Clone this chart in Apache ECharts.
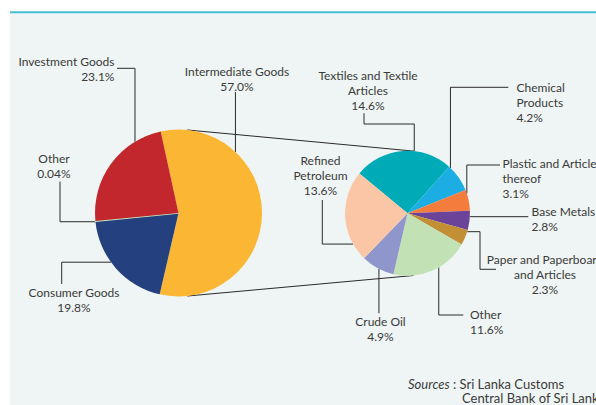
<!DOCTYPE html>
<html>
<head>
<meta charset="utf-8">
<script src="https://cdn.jsdelivr.net/npm/echarts@6/dist/echarts.min.js"></script>
<style>
  html, body { margin: 0; padding: 0; background: #fff; }
  #chart { width: 596px; height: 405px; }
</style>
</head>
<body>
<div id="chart"></div>
<script>
// main split of imports (% of total)
var mainNames = ['Intermediate Goods', 'Consumer Goods', 'Other', 'Investment Goods'];
var mainShares = [57.0, 19.8, 0.04, 23.1];
var mainColors = ['#fbb633', '#24407f', '#c8e6bd', '#c1272d'];

// breakdown of intermediate goods (% of total)
var subNames = ['Textiles and Textile\nArticles', 'Chemical\nProducts', 'Plastic and Articles\nthereof',
  'Base Metals', 'Paper and Paperboard\nand Articles', 'Other', 'Crude Oil', 'Refined\nPetroleum'];
var subShares = [14.6, 4.2, 3.1, 2.8, 2.3, 11.6, 4.9, 13.6];
var subColors = ['#00abb8', '#1caee2', '#f47d3e', '#6b449a', '#c28f35', '#c2e1b5', '#8f96cb', '#fbc6a5'];

// pie geometry
var pies = [
  { center: [178.5, 213], r: 83.5, start: 102.3 },
  { center: [407.5, 213.3], r: 62.5, start: 140.3 }
];

// label placement: leader start angle on the pie, elbow points, label anchor
var labelSpots = [
  [
    { a: 47, pts: [[null, 92]], x: 237, y: 79, align: 'center' },
    { a: 216.1, pts: [[61.7, null], [61.7, 284]], x: 74, y: 299.5, align: 'center' },
    { a: 186, pts: [[60, null], [60, 181.7]], x: 54, y: 165.5, align: 'center' },
    { a: 121.4, pts: [[null, 68.3], [117, 68.3]], x: 114.5, y: 68.5, align: 'right' }
  ],
  [
    { a: 83.8, pts: [[null, 124], [364, 124], [364, 113.3]], x: 368, y: 90, align: 'center' },
    { a: 46.6, pts: [[null, 87.3], [508.3, 87.3]], x: 516.5, y: 102.5, align: 'left' },
    { a: 18.4, pts: [[null, 165], [500, 165]], x: 502.5, y: 178, align: 'left' },
    { a: -3.1, pts: [[528.3, null]], x: 531.5, y: 219, align: 'left' },
    { a: -17.1, pts: [[480, null], [480, 269.3], [496, 269.3]], x: 545, y: 274.5, align: 'center' },
    { a: -60, pts: [[null, 315], [463.3, 315]], x: 470, y: 322, align: 'left' },
    { a: -117.2, pts: [[null, 313.3]], x: 380.5, y: 329, align: 'center' },
    { a: 209.5, pts: [[322.3, null], [322.3, 200]], x: 320.5, y: 175, align: 'center' }
  ]
];

function edgePoint(p, deg) {
  var t = deg * Math.PI / 180;
  return [p.center[0] + p.r * Math.cos(t), p.center[1] - p.r * Math.sin(t)];
}

function pct(v) {
  return (v < 0.1 ? v.toFixed(2) : v.toFixed(1)) + '%';
}

var textColor = '#3a3a3a';
var lineColor = '#2a2a2a';

function makePie(idx, names, values, colors) {
  var p = pies[idx];
  return {
    type: 'pie',
    center: p.center,
    radius: p.r,
    startAngle: p.start,
    clockwise: true,
    avoidLabelOverlap: false,
    animation: false,
    data: names.map(function (n, i) {
      var item = { name: n, value: values[i], itemStyle: { color: colors[i] } };
      if (values[i] < 0.1) {
        item.itemStyle.borderColor = colors[i];
        item.itemStyle.borderWidth = 1.5;
      }
      return item;
    }),
    label: {
      show: true,
      color: textColor,
      fontFamily: 'Lato',
      fontSize: 12,
      lineHeight: 15,
      formatter: function (prm) { return prm.name + '\n' + pct(prm.value); }
    },
    labelLine: { show: true, lineStyle: { color: lineColor, width: 1 } },
    labelLayout: function (prm) {
      var s = labelSpots[idx][prm.dataIndex];
      var start = edgePoint(p, s.a);
      var pts = [start];
      var prev = start;
      s.pts.forEach(function (q) {
        var pt = [q[0] == null ? prev[0] : q[0], q[1] == null ? prev[1] : q[1]];
        pts.push(pt);
        prev = pt;
      });
      return { x: s.x, y: s.y, align: s.align, verticalAlign: 'middle', labelLinePoints: pts };
    },
    emphasis: { disabled: true }
  };
}

var chart = echarts.init(document.getElementById('chart'), null, { renderer: 'svg' });

var a1 = edgePoint(pies[0], 84), b1 = edgePoint(pies[1], 84);
var a2 = edgePoint(pies[0], -84), b2 = edgePoint(pies[1], -84.5);

var option = {
  backgroundColor: '#ffffff',
  graphic: [
    { type: 'rect', z: -10, shape: { x: 10, y: 13, width: 586, height: 392 }, style: { fill: '#eff5f4' } },
    { type: 'rect', z: -10, shape: { x: 10, y: 11.3, width: 586, height: 2 }, style: { fill: '#45bfcf' } },
    { type: 'line', z: -5, shape: { x1: a1[0], y1: a1[1], x2: b1[0], y2: b1[1] }, style: { stroke: lineColor, lineWidth: 1 } },
    { type: 'line', z: -5, shape: { x1: a2[0], y1: a2[1], x2: b2[0], y2: b2[1] }, style: { stroke: lineColor, lineWidth: 1 } },
    {
      type: 'text', x: 408, y: 377.5,
      style: {
        text: '{i|Sources} : Sri Lanka Customs',
        fill: textColor, font: '13px Lato',
        rich: { i: { fontStyle: 'italic', fontFamily: 'Lato', fontSize: 13, fill: textColor } }
      }
    },
    {
      type: 'text', x: 462, y: 391,
      style: { text: 'Central Bank of Sri Lanka', fill: textColor, font: '13px Lato' }
    }
  ],
  series: [
    makePie(0, mainNames, mainShares, mainColors),
    makePie(1, subNames, subShares, subColors)
  ]
};

option && chart.setOption(option);
</script>
</body>
</html>
